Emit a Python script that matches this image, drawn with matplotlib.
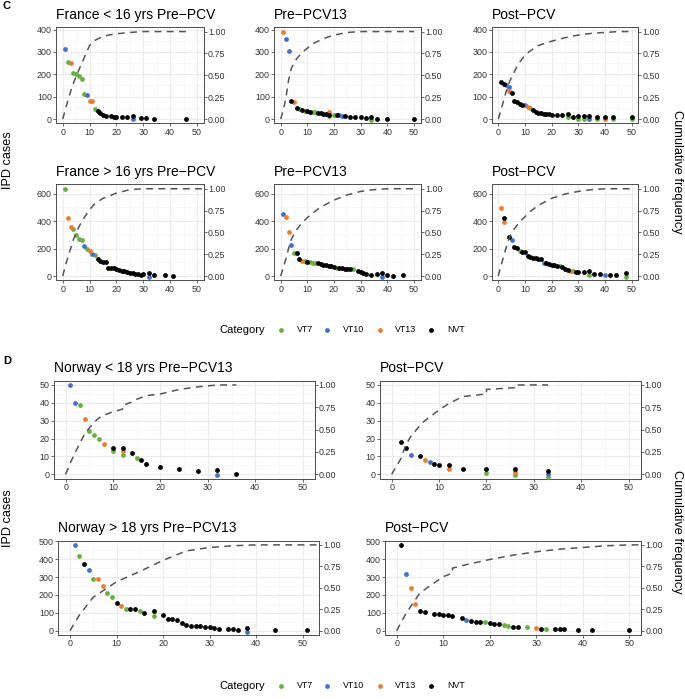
import matplotlib
matplotlib.use('Agg')
import matplotlib.pyplot as plt
import numpy as np

plt.rcParams['font.family'] = ['Liberation Sans', 'DejaVu Sans']

# ---------------- DATA ----------------
CATS = ['VT7', 'VT10', 'VT13', 'NVT']
COLORS = {'VT7': '#6AAF44', 'VT10': '#4472C4', 'VT13': '#ED7D31', 'NVT': '#000000'}

# France < 16 yrs Pre-PCV
fr_u16_pre_x = [1, 2, 3, 4, 5, 6, 7, 8, 9, 10, 11, 12, 13, 14, 15, 16, 18, 19, 20, 22, 24, 26, 26, 29, 31, 34, 46]
fr_u16_pre_y = [315, 255, 250, 207, 203, 193, 179, 112, 108, 82, 79, 45, 37, 27, 19, 15, 12, 10, 9, 9, 9, 15, 0, 4, 4, 2, 2]
fr_u16_pre_c = ['VT10', 'VT7', 'VT13', 'VT7', 'VT7', 'VT7', 'VT7', 'VT7', 'VT10', 'VT13', 'VT13', 'VT7',
                'NVT', 'NVT', 'NVT', 'NVT', 'NVT', 'NVT', 'NVT', 'NVT', 'NVT', 'NVT', 'VT10', 'NVT', 'NVT', 'NVT', 'NVT']
fr_u16_pre_cx = [0, 1, 2, 3, 4, 5, 6, 7, 8, 9, 10, 12, 14, 17, 20, 25, 30, 46]
fr_u16_pre_cf = [0, 0.11, 0.22, 0.32, 0.41, 0.49, 0.56, 0.63, 0.70, 0.77, 0.84, 0.90, 0.93, 0.96, 0.975, 0.99, 1.0, 1.0]

# France < 16 yrs Pre-PCV13
fr_u16_p13_x = [1, 2, 3, 4, 5, 6, 7, 8, 9, 10, 11, 12, 13, 14, 15, 16, 17, 18, 18, 18, 20, 21, 22, 23, 24, 26, 28, 30, 32, 34, 34, 36, 40, 50]
fr_u16_p13_y = [391, 360, 303, 81, 75, 49, 45, 40, 37, 36, 33, 31, 31, 27, 25, 22, 21, 30, 20, 13, 19, 16, 16, 15, 12, 9, 7, 7, 6, 9, -5, 2, 2, 2]
fr_u16_p13_c = ['VT13', 'VT10', 'VT10', 'NVT', 'VT13', 'NVT', 'VT7', 'NVT', 'VT7', 'NVT', 'NVT', 'VT7', 'VT7',
                'NVT', 'NVT', 'NVT', 'NVT', 'VT13', 'NVT', 'VT7', 'VT7', 'NVT', 'VT10', 'VT10', 'NVT', 'NVT',
                'NVT', 'NVT', 'NVT', 'NVT', 'VT7', 'NVT', 'NVT', 'NVT']
fr_u16_p13_cx = [0, 1, 2, 3, 4, 5, 6, 8, 10, 12, 14, 17, 20, 25, 30, 50]
fr_u16_p13_cf = [0, 0.10, 0.25, 0.45, 0.58, 0.64, 0.69, 0.76, 0.81, 0.86, 0.89, 0.93, 0.96, 0.99, 1.0, 1.0]

# France < 16 yrs Post-PCV
fr_u16_post_x = [1, 2, 3, 4, 4, 5, 6, 7, 8, 9, 10, 11, 12, 13, 14, 15, 16, 17, 18, 19, 20, 22, 24, 26, 26, 28,
                 30, 30, 32, 32, 34, 34, 37, 37, 40, 40, 43, 43, 50, 50]
fr_u16_post_y = [166, 158, 150, 145, 124, 116, 81, 75, 69, 64, 63, 54, 48, 39, 33, 28, 25, 24, 22, 21, 18, 18, 16,
                 21, 7, 9, 12, 2, 12, 2, 12, 0, 9, 0, 9, -2, 9, 0, 9, -2]
fr_u16_post_c = ['NVT', 'NVT', 'VT10', 'VT10', 'VT13', 'NVT', 'NVT', 'NVT', 'NVT', 'NVT', 'VT10', 'VT13', 'VT7',
                 'NVT', 'NVT', 'NVT', 'NVT', 'NVT', 'NVT', 'NVT', 'NVT', 'NVT', 'NVT', 'NVT', 'VT7', 'NVT',
                 'NVT', 'VT7', 'NVT', 'VT7', 'NVT', 'VT10', 'NVT', 'VT7', 'NVT', 'VT13', 'NVT', 'VT7', 'NVT', 'VT7']
fr_u16_post_cx = [0, 1, 2, 3, 4, 5, 6, 7, 8, 10, 12, 15, 20, 25, 30, 35, 40, 45, 50]
fr_u16_post_cf = [0, 0.10, 0.21, 0.32, 0.41, 0.48, 0.54, 0.60, 0.65, 0.73, 0.78, 0.84, 0.89, 0.93, 0.96, 0.98, 0.99, 1.0, 1.0]

# France > 16 yrs Pre-PCV
fr_o16_pre_x = [1, 2, 3, 4, 5, 6, 7, 8, 9, 10, 11, 12, 13, 14, 15, 16, 17, 18, 19, 20, 21, 22, 23, 24, 25, 26,
                27, 28, 29, 30, 32, 32, 34, 38, 41]
fr_o16_pre_y = [636, 425, 355, 340, 299, 272, 260, 221, 197, 180, 158, 151, 124, 107, 104, 102, 61, 61, 56, 51,
                44, 39, 34, 29, 24, 19, 15, 12, 10, 12, 19, -5, 5, 5, 2]
fr_o16_pre_c = ['VT7', 'VT13', 'VT13', 'VT7', 'VT7', 'VT7', 'VT7', 'VT10', 'VT7', 'VT13', 'VT10', 'VT7',
                'NVT', 'NVT', 'NVT', 'NVT', 'NVT', 'NVT', 'NVT', 'NVT', 'NVT', 'NVT', 'NVT', 'NVT', 'NVT',
                'NVT', 'NVT', 'NVT', 'NVT', 'NVT', 'NVT', 'VT10', 'NVT', 'NVT', 'NVT']
fr_o16_pre_cx = [0, 1, 2, 3, 4, 5, 6, 7, 8, 10, 12, 15, 20, 25, 30, 55]
fr_o16_pre_cf = [0, 0.12, 0.22, 0.32, 0.42, 0.50, 0.56, 0.62, 0.67, 0.76, 0.83, 0.89, 0.95, 0.99, 1.0, 1.0]

# France > 16 yrs Pre-PCV13
fr_o16_p13_x = [1, 2, 3, 4, 5, 6, 7, 8, 9, 10, 11, 12, 13, 14, 15, 16, 17, 18, 19, 20, 21, 22, 23, 24, 25, 26,
                27, 29, 30, 31, 32, 34, 36, 38, 38, 40, 42, 46]
fr_o16_p13_y = [449, 427, 321, 228, 165, 165, 124, 109, 107, 102, 100, 97, 95, 92, 87, 83, 78, 75, 73, 68, 61,
                58, 56, 53, 51, 51, 49, 36, 29, 19, 12, 10, 12, 19, -7, 5, 2, 5]
fr_o16_p13_c = ['VT10', 'VT13', 'VT13', 'VT10', 'VT7', 'NVT', 'NVT', 'VT13', 'VT7', 'NVT', 'VT7', 'VT7', 'VT7',
                'NVT', 'NVT', 'NVT', 'NVT', 'NVT', 'NVT', 'NVT', 'VT7', 'NVT', 'NVT', 'NVT', 'NVT', 'NVT',
                'VT7', 'NVT', 'NVT', 'NVT', 'NVT', 'NVT', 'NVT', 'NVT', 'VT10', 'NVT', 'NVT', 'NVT']
fr_o16_p13_cx = [0, 1, 2, 3, 4, 5, 6, 8, 10, 12, 15, 20, 25, 30, 35, 40, 50]
fr_o16_p13_cf = [0, 0.10, 0.20, 0.32, 0.42, 0.48, 0.53, 0.61, 0.67, 0.72, 0.79, 0.87, 0.93, 0.97, 0.99, 1.0, 1.0]

# France > 16 yrs Post-PCV
fr_o16_post_x = [1, 2, 2, 4, 5, 6, 7, 8, 9, 10, 11, 12, 13, 14, 15, 16, 17, 18, 19, 20, 21, 22, 23, 24, 25, 26,
                 27, 28, 29, 30, 32, 34, 34, 36, 38, 40, 42, 44, 48, 48]
fr_o16_post_y = [498, 420, 393, 282, 262, 211, 204, 180, 175, 172, 143, 136, 131, 129, 126, 121, 95, 92, 87, 83,
                 78, 73, 75, 63, 53, 44, 39, 34, 29, 29, 32, 39, 7, 17, 12, 7, 5, 5, 22, -7]
fr_o16_post_c = ['VT13', 'NVT', 'VT13', 'NVT', 'VT10', 'NVT', 'NVT', 'VT7', 'NVT', 'NVT', 'NVT', 'NVT', 'NVT',
                 'NVT', 'NVT', 'NVT', 'VT10', 'NVT', 'NVT', 'NVT', 'NVT', 'NVT', 'VT7', 'NVT', 'NVT', 'NVT',
                 'VT13', 'VT7', 'NVT', 'NVT', 'NVT', 'NVT', 'VT7', 'NVT', 'NVT', 'VT10', 'NVT', 'NVT', 'NVT', 'VT7']
fr_o16_post_cx = [0, 1, 2, 3, 4, 5, 6, 8, 10, 12, 15, 20, 25, 30, 35, 40, 50]
fr_o16_post_cf = [0, 0.12, 0.22, 0.33, 0.43, 0.49, 0.54, 0.62, 0.68, 0.74, 0.81, 0.89, 0.94, 0.97, 0.99, 1.0, 1.0]

# Norway < 18 yrs Pre-PCV13
no_u18_pre_x = [1, 2, 3, 4, 5, 6, 7, 8, 10, 10, 12, 12, 12, 14, 15, 16, 17, 20, 24, 28, 32, 32, 36]
no_u18_pre_y = [50, 40, 39, 31, 24, 22, 20, 17, 15, 13, 15, 13, 11, 12, 9, 8, 6, 4, 3, 2, 2.4, -0.2, 0]
no_u18_pre_c = ['VT10', 'VT10', 'VT7', 'VT13', 'VT7', 'VT7', 'VT7', 'VT13', 'NVT', 'VT7', 'NVT', 'VT13', 'VT7',
                'NVT', 'VT7', 'NVT', 'NVT', 'NVT', 'NVT', 'NVT', 'NVT', 'VT10', 'NVT']
no_u18_pre_cx = [0, 1, 2, 3, 4, 5, 6, 7, 8, 10, 12, 12, 14, 15, 16, 17, 20, 24, 28, 32, 36]
no_u18_pre_cf = [0, 0.13, 0.24, 0.35, 0.45, 0.52, 0.58, 0.63, 0.66, 0.70, 0.73, 0.77, 0.81, 0.84, 0.86, 0.88,
                 0.90, 0.95, 0.98, 1.0, 1.0]

# Norway < 18 yrs Post-PCV
no_u18_post_x = [2, 3, 4, 6, 7, 8, 9, 10, 12, 12, 15, 20, 20, 26, 26, 26, 33, 33, 33]
no_u18_post_y = [18, 15, 11, 10, 8, 7, 6, 5, 5, 3, 3, 3, 0.8, 2.8, 1.3, -0.3, 1.8, 0.3, -1.3]
no_u18_post_c = ['NVT', 'NVT', 'VT10', 'NVT', 'VT13', 'VT10', 'NVT', 'NVT', 'NVT', 'VT13', 'NVT', 'NVT', 'VT7',
                 'NVT', 'VT13', 'VT7', 'NVT', 'VT10', 'VT7']
no_u18_post_cx = [0, 2, 3, 4, 6, 7, 8, 9, 10, 12, 15, 20, 20, 26, 26, 33]
no_u18_post_cf = [0, 0.18, 0.33, 0.42, 0.55, 0.60, 0.64, 0.68, 0.72, 0.79, 0.87, 0.90, 0.95, 0.97, 1.0, 1.0]

# Norway > 18 yrs Pre-PCV13
no_o18_pre_x = [1, 2, 3, 4, 5, 6, 7, 8, 9, 10, 11, 12, 13, 14, 15, 16, 18, 18, 20, 21, 22, 23, 24, 25, 26, 27,
                28, 29, 30, 31, 32, 34, 35, 36, 38, 38, 44, 51]
no_o18_pre_y = [479, 416, 375, 340, 291, 289, 250, 211, 188, 155, 136, 123, 119, 119, 112, 99, 108, 84, 88, 67,
                65, 58, 41, 34, 28, 26, 24, 22, 21, 13, 11, 11, 7, 6, 17, -9, 4, 2]
no_o18_pre_c = ['VT10', 'VT7', 'NVT', 'VT10', 'VT7', 'VT13', 'VT13', 'VT7', 'VT7', 'NVT', 'VT13', 'VT7', 'NVT',
                'NVT', 'VT7', 'NVT', 'NVT', 'VT7', 'NVT', 'NVT', 'NVT', 'NVT', 'NVT', 'NVT', 'NVT', 'NVT',
                'NVT', 'NVT', 'NVT', 'NVT', 'NVT', 'NVT', 'NVT', 'NVT', 'NVT', 'VT10', 'NVT', 'NVT']
no_o18_pre_cx = [0, 2, 5, 10, 15, 20, 25, 30, 35, 40, 56]
no_o18_pre_cf = [0, 0.18, 0.39, 0.57, 0.69, 0.82, 0.93, 0.97, 0.99, 1.0, 1.0]

# Norway > 18 yrs Post-PCV
no_o18_post_x = [1, 2, 3, 4, 5, 6, 8, 9, 10, 11, 12, 14, 15, 16, 17, 18, 19, 20, 21, 22, 23, 24, 25, 26, 28,
                 30, 31, 32, 34, 35, 36, 39, 42, 50]
no_o18_post_y = [480, 315, 240, 150, 110, 102, 96, 92, 88, 86, 82, 72, 58, 52, 50, 48, 48, 45, 40, 35, 30, 27,
                 22, 20, 18, 16, 12, 10, 10, 9, 8, 5, 3, 2]
no_o18_post_c = ['NVT', 'VT10', 'VT13', 'VT13', 'NVT', 'NVT', 'NVT', 'NVT', 'NVT', 'NVT', 'NVT', 'NVT', 'VT10',
                 'NVT', 'NVT', 'NVT', 'VT7', 'NVT', 'NVT', 'NVT', 'VT7', 'VT7', 'NVT', 'NVT', 'VT7', 'VT13',
                 'NVT', 'VT7', 'NVT', 'NVT', 'NVT', 'NVT', 'NVT', 'NVT']
no_o18_post_cx = [0, 2, 5, 10, 12, 12, 15, 20, 25, 30, 35, 40, 45, 50, 55]
no_o18_post_cf = [0, 0.20, 0.44, 0.63, 0.67, 0.73, 0.77, 0.83, 0.88, 0.92, 0.95, 0.97, 0.99, 1.0, 1.0]

# ---------------- LAYOUT (pixels) ----------------
W, H = 685, 699
fig = plt.figure(figsize=(W / 100, H / 100), dpi=100)


def add_ax(l, r, t, b):
    return fig.add_axes([l / W, (H - b) / H, (r - l) / W, (b - t) / H])


TICK_FS = 6.4
TITLE_FS = 10.0
GRID_MAJ = '#EBEBEB'
GRID_MIN = '#F4F4F4'


def draw_panel(rect, xs, ys, cs, cx, cf, title, ymax, xmax, ymajor, yminor):
    ax = add_ax(*rect)
    xs = np.asarray(xs, float)
    ys = np.asarray(ys, float)
    ax.set_xlim(-0.05 * xmax, xmax * 1.05)
    ax.set_ylim(-0.05 * ymax, ymax * 1.05)
    ax.set_xticks(np.arange(0, 51, 10))
    ax.set_xticks(np.arange(5, 51, 10), minor=True)
    ax.set_yticks(ymajor)
    ax.set_yticks(yminor, minor=True)
    ax.grid(True, which='major', color=GRID_MAJ, linewidth=0.8, zorder=0)
    ax.grid(True, which='minor', color=GRID_MIN, linewidth=0.5, zorder=0)
    ax.set_axisbelow(True)
    for sp in ax.spines.values():
        sp.set_color('#4D4D4D')
        sp.set_linewidth(0.7)
    ax.tick_params(which='major', length=2.0, width=0.6, color='#4D4D4D',
                   labelsize=TICK_FS, labelcolor='#333333', pad=1.0)
    ax.tick_params(which='minor', length=0)
    for cat in CATS:
        m = np.array([c == cat for c in cs])
        if m.any():
            ax.scatter(xs[m], ys[m], s=12, color=COLORS[cat], linewidths=0, zorder=3)
    # cumulative frequency line (secondary scale 0..1 mapped onto 0..ymax)
    ax.plot(np.asarray(cx, float), np.asarray(cf, float) * ymax, color='#555555', linewidth=1.1,
            linestyle=(0, (4.5, 3.5)), zorder=4)
    sec = ax.secondary_yaxis('right', functions=(lambda v: v / ymax, lambda v: v * ymax))
    sec.set_yticks([0, 0.25, 0.5, 0.75, 1.0])
    sec.set_yticklabels(['0.00', '0.25', '0.50', '0.75', '1.00'])
    sec.tick_params(length=2.0, width=0.6, color='#4D4D4D', labelsize=TICK_FS,
                    labelcolor='#333333', pad=1.0)
    sec.spines['right'].set_color('#4D4D4D')
    sec.spines['right'].set_linewidth(0.7)
    ax.annotate(title, xy=(0, 1.0), xycoords='axes fraction', xytext=(0, 6.2),
                textcoords='offset points', fontsize=TITLE_FS, ha='left', va='baseline', color='black')
    return ax


c_r1 = (27.2, 123.4)
c_r2 = (184.4, 280.4)
c_cols = [(56, 203.7), (274, 420.7), (491.6, 638.3)]
ymaj_c1 = [0, 100, 200, 300, 400]
ymin_c1 = [50, 150, 250, 350]
ymaj_c2 = [0, 200, 400, 600]
ymin_c2 = [100, 300, 500]
ymax_c1 = max(fr_u16_pre_y + fr_u16_p13_y + fr_u16_post_y)
ymax_c2 = max(fr_o16_pre_y + fr_o16_p13_y + fr_o16_post_y)

panels = [
    ((c_cols[0][0], c_cols[0][1], c_r1[0], c_r1[1]), fr_u16_pre_x, fr_u16_pre_y, fr_u16_pre_c,
     fr_u16_pre_cx, fr_u16_pre_cf, 'France < 16 yrs Pre\u2212PCV', ymax_c1, 50, ymaj_c1, ymin_c1),
    ((c_cols[1][0], c_cols[1][1], c_r1[0], c_r1[1]), fr_u16_p13_x, fr_u16_p13_y, fr_u16_p13_c,
     fr_u16_p13_cx, fr_u16_p13_cf, 'Pre\u2212PCV13', ymax_c1, 50, ymaj_c1, ymin_c1),
    ((c_cols[2][0], c_cols[2][1], c_r1[0], c_r1[1]), fr_u16_post_x, fr_u16_post_y, fr_u16_post_c,
     fr_u16_post_cx, fr_u16_post_cf, 'Post\u2212PCV', ymax_c1, 50, ymaj_c1, ymin_c1),
    ((c_cols[0][0], c_cols[0][1], c_r2[0], c_r2[1]), fr_o16_pre_x, fr_o16_pre_y, fr_o16_pre_c,
     fr_o16_pre_cx, fr_o16_pre_cf, 'France > 16 yrs Pre\u2212PCV', ymax_c2, 50, ymaj_c2, ymin_c2),
    ((c_cols[1][0], c_cols[1][1], c_r2[0], c_r2[1]), fr_o16_p13_x, fr_o16_p13_y, fr_o16_p13_c,
     fr_o16_p13_cx, fr_o16_p13_cf, 'Pre\u2212PCV13', ymax_c2, 50, ymaj_c2, ymin_c2),
    ((c_cols[2][0], c_cols[2][1], c_r2[0], c_r2[1]), fr_o16_post_x, fr_o16_post_y, fr_o16_post_c,
     fr_o16_post_cx, fr_o16_post_cf, 'Post\u2212PCV', ymax_c2, 50, ymaj_c2, ymin_c2),
]

ymax_d1 = max(no_u18_pre_y + no_u18_post_y)
ymax_d2 = max(no_o18_pre_y + no_o18_post_y)
panels += [
    ((53.8, 314.5, 380.5, 478.8), no_u18_pre_x, no_u18_pre_y, no_u18_pre_c, no_u18_pre_cx, no_u18_pre_cf,
     'Norway < 18 yrs Pre\u2212PCV13', ymax_d1, 50, [0, 10, 20, 30, 40, 50], [5, 15, 25, 35, 45]),
    ((379.8, 640.5, 380.5, 478.8), no_u18_post_x, no_u18_post_y, no_u18_post_c, no_u18_post_cx, no_u18_post_cf,
     'Post\u2212PCV', ymax_d1, 50, [0, 10, 20, 30, 40, 50], [5, 15, 25, 35, 45]),
    ((58.1, 319.2, 540.6, 635.0), no_o18_pre_x, no_o18_pre_y, no_o18_pre_c, no_o18_pre_cx, no_o18_pre_cf,
     'Norway > 18 yrs Pre\u2212PCV13', ymax_d2, max(no_o18_pre_x), [0, 100, 200, 300, 400, 500],
     [50, 150, 250, 350, 450]),
    ((385.0, 641.0, 540.6, 635.0), no_o18_post_x, no_o18_post_y, no_o18_post_c, no_o18_post_cx, no_o18_post_cf,
     'Post\u2212PCV', ymax_d2, 50, [0, 100, 200, 300, 400, 500], [50, 150, 250, 350, 450]),
]

for p in panels:
    draw_panel(*p)

# ---------------- overlay texts ----------------
ov = fig.add_axes([0, 0, 1, 1], facecolor='none')
ov.set_xlim(0, W)
ov.set_ylim(H, 0)
ov.axis('off')

ov.text(3, 6, 'C', fontsize=8, fontweight='bold', ha='left', va='center')
ov.text(3, 361, 'D', fontsize=8, fontweight='bold', ha='left', va='center')

AX_FS = 9.2
ov.text(8, 160, 'IPD cases', fontsize=AX_FS, rotation=90, ha='center', va='center')
ov.text(8, 518, 'IPD cases', fontsize=AX_FS, rotation=90, ha='center', va='center')
ov.text(677, 172, 'Cumulative frequency', fontsize=AX_FS, rotation=-90, ha='center', va='center')
ov.text(677, 532, 'Cumulative frequency', fontsize=AX_FS, rotation=-90, ha='center', va='center')


def legend(yc):
    ov.text(219, yc, 'Category', fontsize=8, ha='left', va='center')
    xs_dot = [281, 327, 380, 431]
    xs_lab = [297, 343, 395, 447]
    for cat, xd, xl in zip(CATS, xs_dot, xs_lab):
        ov.scatter([xd], [yc], s=12, color=COLORS[cat], linewidths=0)
        ov.text(xl, yc, cat, fontsize=6.4, ha='left', va='center', color='black')


legend(330)
legend(686)

fig.savefig('out.png', dpi=100)
